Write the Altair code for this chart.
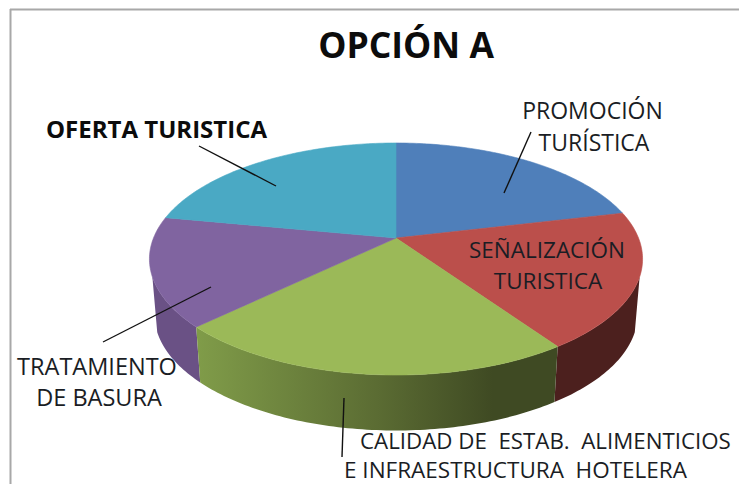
import math
import altair as alt
import pandas as pd

categories = ["PROMOCIÓN TURÍSTICA", "SEÑALIZACIÓN TURISTICA", "CALIDAD DE ESTAB. ALIMENTICIOS E INFRAESTRUCTURA HOTELERA", "TRATAMIENTO DE BASURA", "OFERTA TURISTICA"]
shares = [21.3, 19.1, 22.4, 15.2, 22.0]
top_colors = ["#4f7fba", "#bb4f4b", "#9bb958", "#8064a0", "#4aa9c4"]

W, H = 731, 476
CX, CY, RX, RY, K = 388, 230, 242.5, 112.2, 0.181
DEPTH, SHRINK = 55.5, 0.98
VISIBLE_FROM, VISIBLE_TO = math.radians(109), math.radians(251)
FONT = "Open Sans"


def rim(theta, bottom=False):
    s, c = math.sin(theta), math.cos(theta)
    x = RX * s / (1 + K * c)
    y = -RY * c / (1 + K * c)
    if bottom:
        return CX + x * SHRINK, CY + y + DEPTH
    return CX + x, CY + y


def arc(a0, a1, bottom=False):
    n = max(8, int(abs(a1 - a0) * 60))
    return [rim(a0 + (a1 - a0) * i / n, bottom) for i in range(n + 1)]


def polygon(points, fill, stroke=None):
    pts = points + [points[0]]
    df = pd.DataFrame({"x": [p[0] for p in pts], "y": [p[1] for p in pts], "i": range(len(pts))})
    return alt.Chart(df).mark_line(fill=fill, stroke=stroke or "transparent", strokeWidth=0.6, interpolate="linear").encode(
        x=alt.X("x:Q", axis=None, scale=alt.Scale(domain=[0, W], nice=False, zero=False)),
        y=alt.Y("y:Q", axis=None, scale=alt.Scale(domain=[H, 0], nice=False, zero=False)),
        order="i:Q",
    )


def label(text, px, baseline_y, size=23, weight="normal", align="center", color="#1a1d24"):
    df = pd.DataFrame({"t": [text]})
    return alt.Chart(df).mark_text(font=FONT, fontSize=size, fontWeight=weight, align=align, baseline="alphabetic", color=color).encode(
        x=alt.value(px - 8), y=alt.value(baseline_y - 8), text="t:N"
    )


def leader(x0, y0, x1, y1, color="#111111", width=1.4):
    df = pd.DataFrame({"v": [0]})
    return alt.Chart(df).mark_rule(color=color, strokeWidth=width).encode(
        x=alt.value(x0 - 8), y=alt.value(y0 - 8), x2=alt.value(x1 - 8), y2=alt.value(y1 - 8)
    )


edges = [0.0]
for v in shares:
    edges.append(edges[-1] + v / sum(shares) * 2 * math.pi)

layers = []

# side walls of the front slices
green_wall = alt.Gradient(
    gradient="linear", x1=0, x2=1, y1=0, y2=0,
    stops=[
        alt.GradientStop(offset=0, color="#809c49"),
        alt.GradientStop(offset=0.5, color="#5b6c33"),
        alt.GradientStop(offset=0.82, color="#3f4a23"),
        alt.GradientStop(offset=1, color="#3f4a23"),
    ],
)
wall_fill = {1: "#4c201e", 2: green_wall, 3: "#6a5185"}
for i in (1, 3, 2):
    a0, a1 = max(edges[i], VISIBLE_FROM), min(edges[i + 1], VISIBLE_TO)
    layers.append(polygon(arc(a0, a1) + arc(a1, a0, True), wall_fill[i]))

# top face
for i, col in enumerate(top_colors):
    pts = [(CX, CY)] + arc(edges[i], edges[i + 1])
    layers.append(polygon(pts, col, col))

# frame
layers.append(leader(10, 9.5, 739, 9.5, "#a8a8a8", 2))
layers.append(leader(10.5, 9, 10.5, 484, "#a8a8a8", 2))

# leaders
layers.append(leader(199, 146, 276, 186))
layers.append(leader(531, 132, 504, 193))
layers.append(leader(211, 287, 103, 342))
layers.append(leader(344, 398, 342, 457))

# text
layers.append(label("OPCIÓN A", 406, 58, size=35.5, weight="bold", color="#0c0c0c"))
layers.append(label("OFERTA TURISTICA", 46, 138, size=24, weight="bold", align="left", color="#0c0c0c"))
layers.append(label("PROMOCIÓN", 592.5, 119))
layers.append(label("TURÍSTICA", 594, 151))
layers.append(label("SEÑALIZACIÓN", 547, 258, size=22.5))
layers.append(label("TURISTICA", 548, 289, size=22.5))
layers.append(label("TRATAMIENTO", 97, 375, size=23.5))
layers.append(label("DE BASURA", 99, 406, size=23.5))
layers.append(label("CALIDAD DE\u00a0\u00a0ESTAB.\u00a0\u00a0ALIMENTICIOS", 360, 449, size=22.3, align="left"))
layers.append(label("E INFRAESTRUCTURA\u00a0\u00a0HOTELERA", 344, 478, size=22.5, align="left"))

chart = alt.layer(*layers).properties(
    width=W, height=H, padding=0, background="white",
    autosize=alt.AutoSizeParams(type="none"),
).configure_view(stroke=None)

chart.save("out.html", embed_options={"renderer": "svg", "actions": False})
